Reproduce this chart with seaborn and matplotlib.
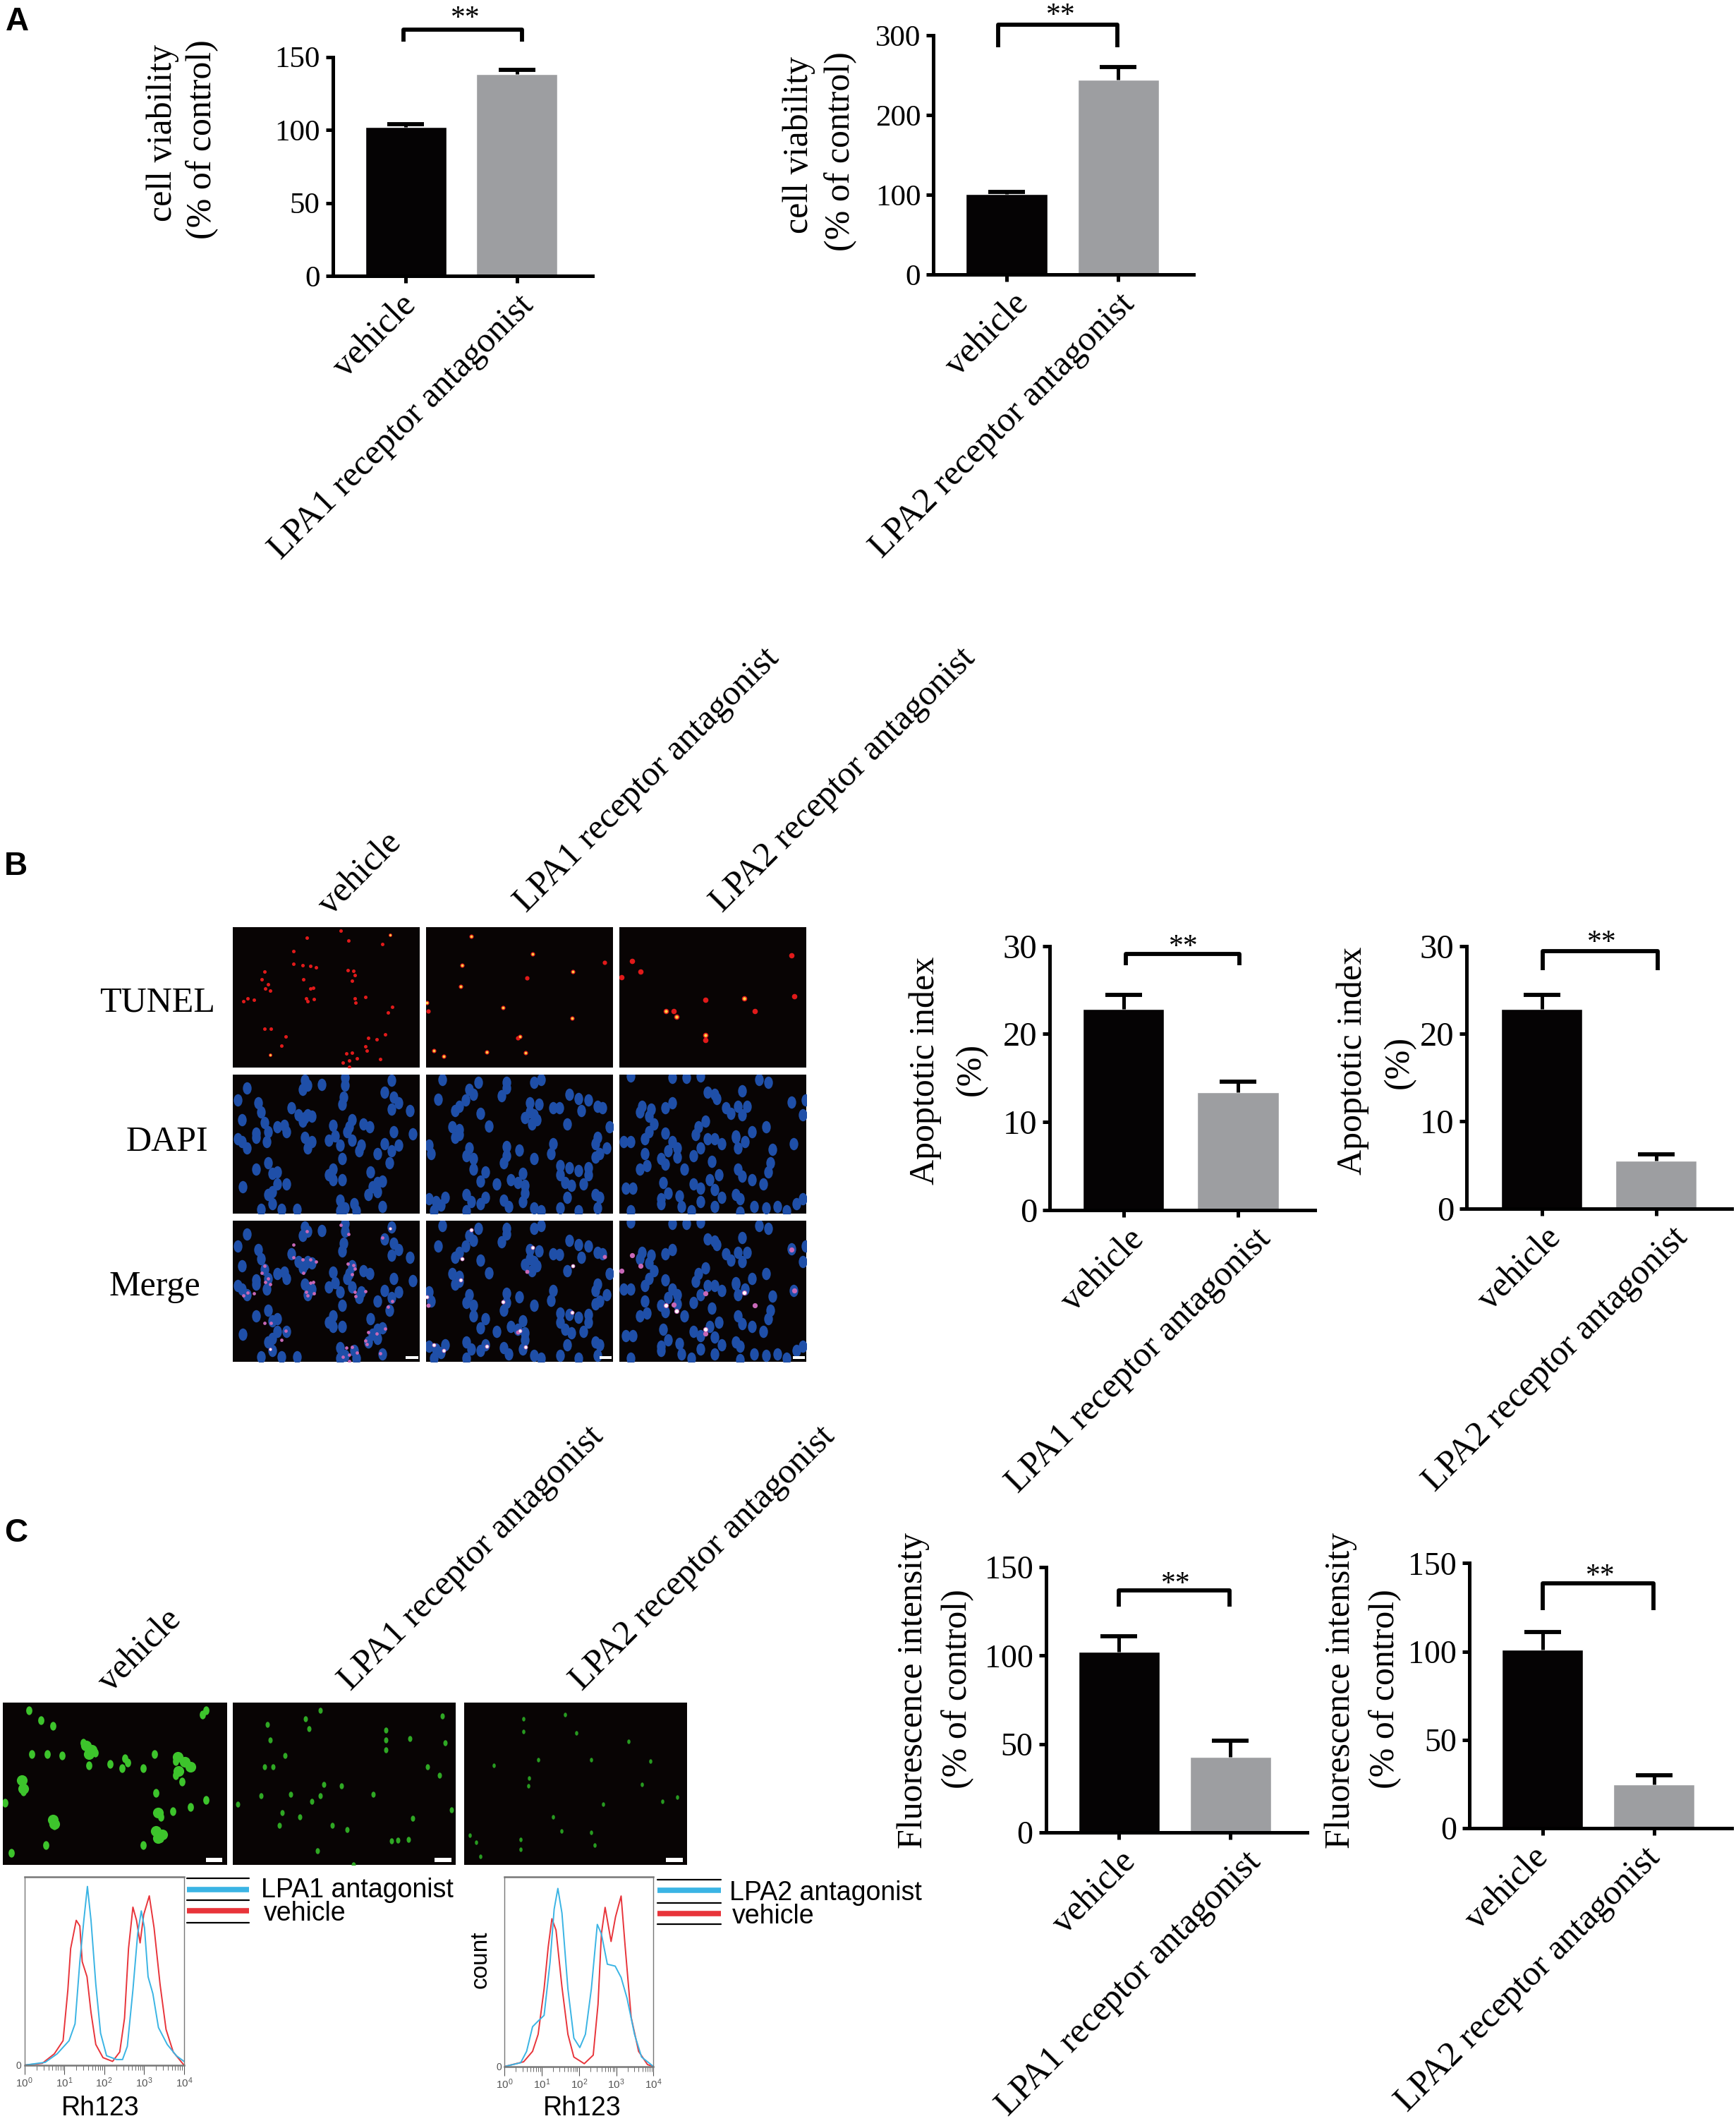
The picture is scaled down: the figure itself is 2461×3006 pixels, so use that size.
import math
import matplotlib
matplotlib.use("Agg")
import matplotlib.pyplot as plt
from matplotlib.markers import MarkerStyle
from matplotlib.patches import Rectangle
from matplotlib.ticker import LogLocator, NullFormatter, FuncFormatter
from matplotlib.transforms import Affine2D, ScaledTranslation
import pandas as pd
import seaborn as sns

sns.set_theme(style="white")
plt.rcParams['font.family'] = ['Liberation Serif', 'DejaVu Sans']
plt.rcParams['mathtext.fontset'] = 'custom'
plt.rcParams['mathtext.rm'] = 'Liberation Sans'

# ---------- data ----------
VEH = "vehicle"
LPA1 = "LPA1 receptor antagonist"
LPA2 = "LPA2 receptor antagonist"

a1_means = [102, 138]; a1_tops = [104, 141]
a2_means = [101, 244]; a2_tops = [104, 260]
b1_means = [22.8, 13.4]; b1_tops = [24.4, 14.6]
b2_means = [22.8, 5.5]; b2_tops = [24.4, 6.2]
c1_means = [102, 42.5]; c1_tops = [111, 52]
c2_means = [101, 25]; c2_tops = [111, 30]

h1_red_x = [0,.45,.75,.97,1.09,1.16,1.3,1.39,1.45,1.57,1.67,1.79,1.97,2.21,2.39,2.51,2.61,2.72,2.81,2.9,2.99,3.13,3.25,3.4,3.55,3.73,4]
h1_red_y = [0,1,6,13,40,62,77,74,55,47,28,11,4,2,7,25,62,84,77,65,80,90,73,43,19,7,0]
h1_blue_x = [0,.52,.82,1.12,1.27,1.39,1.49,1.58,1.67,1.79,1.91,2.06,2.31,2.46,2.58,2.72,2.84,2.93,3.01,3.1,3.22,3.36,3.58,3.81,4]
h1_blue_y = [0,1.5,6,13,22,55,77,95,77,43,17,5,3,3,10,40,70,82,73,47,38,20,11,5,2]
h2_red_x = [0,.51,.75,.9,1.06,1.17,1.27,1.38,1.54,1.70,1.86,2.14,2.38,2.51,2.6,2.7,2.86,2.98,3.13,3.24,3.4,3.6,3.84,4]
h2_red_y = [0,2.5,8,17,41,63,78,72,42,17,5,1.5,6,33,70,84,66,79,90,63,26,8,1,0]
h2_blue_x = [0,.43,.59,.75,.9,1.06,1.22,1.33,1.43,1.54,1.7,1.86,2.02,2.17,2.33,2.49,2.6,2.76,2.97,3.13,3.29,3.49,3.68,4]
h2_blue_y = [0,2,8,21,24,27,55,83,94,81,41,15,10,17,41,75,70,54,53,47,36,17,5,0]

t1 = [(532,68),(637,80),(459,90),(548,100),(620,112),(430,135),(430,176),(450,182),(466,183),(478,190),(547,198),(559,201),(562,214),(368,203),(362,228),(451,228),(556,233),(376,246),(369,258),(380,265),(466,260),(472,257),(345,296),(332,292),(323,302),(457,291),(461,302),(474,294),(562,291),(584,288),(563,305),(642,320),(633,339),(368,392),(382,393),(414,419),(404,448),(380,480),(626,411),(609,428),(591,424),(585,451),(544,474),(556,472),(588,464),(566,490),(616,493),(549,497),(536,505),(549,518)]
t2 = [(810,85),(941,144),(790,181),(1095,173),(1027,203),(930,223),(788,251),(878,323),(716,306),(719,334),(1026,358),(914,419),(909,424),(730,465),(752,485),(843,470),(927,472)]
t3 = [(1153,168),(1131,221),(1172,204),(1495,150),(1310,296),(1394,293),(1501,285),(1416,334),(1226,335),(1243,333),(1249,353),(1311,413),(1311,429)]
t1_hot = [(637,80),(380,480)]
t2_hot = [(810,85),(941,144),(790,181),(1027,203),(788,251),(878,323),(716,306),(1026,358),(914,419),(730,465),(752,485),(843,470),(927,472)]
t3_hot = [(1394,293),(1226,335),(1249,353),(1311,413)]
d1 = [(330,590),(455,565),(460,580),(450,595),(490,578),(540,555),(540,580),(538,620),(535,645),(640,565),(625,605),(645,620),(655,640),(680,665),(640,660),(310,630),(355,640),(360,670),(320,695),(425,655),(440,680),(455,690),(470,685),(450,700),(460,680),(368,705),(350,740),(375,735),(395,720),(410,715),(415,735),(515,715),(555,695),(550,720),(580,710),(593,720),(320,770),(310,760),(330,790),(350,755),(372,770),(455,755),(470,770),(460,790),(505,765),(520,750),(545,735),(645,735),(685,742),(555,765),(530,780),(575,780),(570,800),(625,775),(655,780),(640,800),(610,810),(635,840),(535,825),(515,860),(505,880),(515,895),(535,895),(595,870),(350,860),(375,840),(385,875),(395,870),(322,920),(395,910),(415,910),(385,935),(375,945),(610,905),(620,900),(600,920),(590,945),(610,935),(385,975),(405,995),(360,995),(438,995),(530,965),(540,990),(560,975),(530,1000),(620,985),(565,1000)]
d2 = [(748,562),(825,570),(805,595),(815,610),(885,570),(885,590),(875,615),(945,570),(960,562),(740,628),(798,630),(785,650),(775,665),(830,675),(935,640),(955,645),(985,655),(998,657),(1020,610),(1040,625),(1060,630),(1080,650),(1090,655),(935,670),(945,680),(925,690),(950,695),(940,710),(1045,665),(1015,710),(770,720),(785,730),(775,755),(785,745),(848,717),(1105,720),(1080,755),(1075,775),(1100,790),(720,780),(725,810),(805,790),(800,815),(815,825),(885,785),(912,797),(885,815),(985,775),(880,840),(945,825),(980,808),(815,860),(840,870),(1000,850),(1020,855),(1040,865),(1060,855),(1000,880),(1075,820),(1085,810),(1060,880),(830,900),(865,910),(895,895),(910,905),(925,915),(920,875),(1010,905),(1025,915),(1050,910),(925,940),(720,960),(735,970),(755,955),(745,980),(800,945),(810,970),(840,955),(830,975),(880,965),(890,985),(920,970),(945,990),(960,1000),(1015,955),(1075,945),(1085,955),(1040,1000),(1080,990),(1000,990),(800,1000),(730,1000)]
d3 = [(1150,550),(1240,555),(1270,555),(1300,550),(1425,562),(1445,570),(1390,600),(1315,605),(1330,612),(1335,625),(1240,640),(1175,650),(1195,660),(1225,655),(1355,655),(1380,650),(1400,650),(1365,675),(1390,680),(1495,638),(1525,630),(1520,680),(1190,685),(1170,670),(1200,710),(1310,700),(1295,720),(1225,740),(1190,735),(1440,720),(1410,735),(1375,755),(1135,770),(1150,770),(1180,760),(1240,770),(1250,790),(1230,800),(1290,745),(1315,760),(1330,760),(1345,775),(1375,750),(1395,770),(1380,790),(1500,775),(1455,795),(1180,810),(1185,850),(1215,825),(1225,845),(1250,820),(1285,815),(1325,835),(1300,790),(1380,860),(1450,840),(1445,870),(1170,860),(1340,880),(1320,895),(1265,860),(1140,925),(1155,925),(1220,905),(1285,910),(1390,885),(1410,895),(1435,910),(1230,940),(1215,960),(1255,950),(1300,925),(1330,930),(1375,945),(1385,960),(1345,955),(1300,970),(1215,975),(1260,985),(1330,985),(1440,990),(1465,985),(1505,975),(1520,960),(1415,985),(1485,1000),(1280,1000),(1385,1005),(1150,1000)]
g1_big = [(145,235),(155,250),(150,265),(298,275),(310,292),(320,310),(300,325),(262,535),(272,548),(265,560),(265,470),(38,355),(40,385),(90,495),(92,510)]
g1_small = [(70,145),(50,110),(345,110),(340,125),(90,165),(140,225),(160,260),(55,265),(80,265),(105,270),(150,305),(185,300),(210,280),(215,295),(205,315),(240,315),(260,265),(295,290),(295,340),(305,360),(40,395),(10,435),(262,400),(270,485),(290,465),(320,450),(345,425),(92,515),(270,560),(240,585),(78,585),(20,612)]
g2_cells = [(515,140),(540,110),(745,130),(450,160),(520,175),(650,180),(690,210),(650,215),(650,250),(750,225),(455,215),(480,270),(445,310),(460,310),(720,310),(740,340),(545,370),(575,375),(490,405),(440,412),(525,432),(540,410),(400,440),(628,405),(760,460),(475,470),(505,485),(470,515),(585,530),(660,570),(670,568),(688,565),(695,490),(560,515),(535,605),(595,655)]
g3_cells = [(880,140),(950,125),(880,185),(970,190),(1058,220),(905,285),(995,285),(1095,290),(830,305),(890,350),(888,375),(1080,370),(1115,430),(1140,415),(1015,440),(930,485),(945,535),(995,540),(1000,585),(875,565),(875,600),(800,575),(808,625),(790,550)]

# ---------- style ----------
BLACK = "#050304"; GREY = "#9D9EA1"; IMG = "#080404"; BLUE = "#1F4FA8"
RED = "#E8343A"; CYAN = "#3AB4E4"; GREEN = "#3DC42C"
W, H = 2461, 3006
K = 1.918
SP = 3.6
fig = plt.figure(figsize=(W/100, H/100), dpi=100, facecolor="white")
ELL = MarkerStyle("o", transform=Affine2D().scale(0.85, 1.2))

def axes_px(l, t, r, b, **kw):
    return fig.add_axes([l*K/W, 1-b*K/H, (r-l)*K/W, (b-t)*K/H], **kw)

def barpanel(l, r, ytop, y0, center0, spacing, ymax, ticks, labs, means, tops, cats, fs, dxs=(0, 0)):
    ax = axes_px(l, ytop, r, y0)
    df = pd.DataFrame({"group": cats, "value": means})
    sns.barplot(data=df, x="group", y="value", hue="group", palette=[BLACK, GREY],
                width=60/spacing, saturation=1, errorbar=None, legend=False, ax=ax)
    for i, (m, t) in enumerate(zip(means, tops)):
        ax.errorbar([i], [t], yerr=[[t-m], [0]], color="black", elinewidth=SP,
                    capsize=0, fmt="none", zorder=1)
        ax.plot([i], [t], marker="_", ms=38, mew=SP+0.6, color="black", zorder=3, clip_on=False)
    ax.set_xlim((l-center0)/spacing, (r-center0)/spacing)
    ax.set_ylim(0, ymax)
    ax.set_yticks(ticks); ax.set_yticklabels(labs, fontsize=fs)
    ax.set_xticks([0, 1])
    ax.set_xticklabels(cats, fontsize=36, rotation=45, ha="right", va="top", rotation_mode="anchor")
    ax.set_xlabel(""); ax.set_ylabel("")
    ax.patch.set_alpha(0)
    sns.despine(ax=ax)
    for s in ("left", "bottom"):
        ax.spines[s].set_linewidth(SP); ax.spines[s].set_color("black")
    ax.tick_params(axis="both", length=7, width=SP, color="black", labelcolor="black", pad=6, left=True, bottom=True)
    for lab, dx in zip(ax.get_xticklabels(), dxs):
        lab.set_transform(lab.get_transform() + ScaledTranslation(dx*K/100, 0, fig.dpi_scale_trans))
    return ax

barpanel(246, 438, 42, 204, 300, 82, 150, [0,50,100,150], ["0","50","100","150"], a1_means, a1_tops, [VEH, LPA1], 31, (-5, 0))
barpanel(690, 882, 26, 203, 744, 82.5, 300, [0,100,200,300], ["0","100","200","300"], a2_means, a2_tops, [VEH, LPA2], 31, (4, 0))
barpanel(776, 972, 699, 894, 830.5, 84.5, 30, [0,10,20,30], ["0","10","20","30"], b1_means, b1_tops, [VEH, LPA1], 35, (3, 12))
barpanel(1084, 1280, 699, 893, 1139.5, 84.5, 30, [0,10,20,30], ["0","10","20","30"], b2_means, b2_tops, [VEH, LPA2], 35, (2, 11))
barpanel(773, 966, 1158, 1354, 827, 82.5, 150, [0,50,100,150], ["0","50","100","150"], c1_means, c1_tops, [VEH, LPA1], 33, (0, 10))
barpanel(1086, 1280, 1155, 1351, 1140, 82.5, 150, [0,50,100,150], ["0","50","100","150"], c2_means, c2_tops, [VEH, LPA2], 33, (-8, -8))

def image_axes(l, t, r, b, xlim, ylim):
    ax = axes_px(l, t, r, b)
    ax.set_facecolor(IMG)
    ax.set_xlim(*xlim); ax.set_ylim(*ylim)
    ax.set_xticks([]); ax.set_yticks([])
    for s in ax.spines.values():
        s.set_visible(False)
    return ax

def dots(ax, pts, s, color, dy=0, marker="o"):
    sns.scatterplot(x=[p[0] for p in pts], y=[p[1]+dy for p in pts], s=s, color=color,
                    linewidth=0, legend=False, marker=marker, ax=ax)
    ax.set_xlabel(""); ax.set_ylabel("")

cols = [(172, 310, 300, 700), (315, 453, 714, 1113), (458, 596, 1127, 1527)]
for (l, r, xa, xb), T, Hot, D, ts in zip(cols, [t1, t2, t3], [t1_hot, t2_hot, t3_hot], [d1, d2, d3], [13, 20, 30]):
    a = image_axes(l, 685, r, 789, (xa, xb), (522, 55))
    dots(a, T, ts, "#E01A1A")
    dots(a, Hot, ts*0.35, "#FFD040")
    a = image_axes(l, 794, r, 897, (xa, xb), (1010, 545))
    dots(a, D, 110, BLUE, marker=ELL)
    a = image_axes(l, 902, r, 1006, (xa, xb), (1010, 545))
    dots(a, D, 110, BLUE, marker=ELL)
    dots(a, T, ts*0.9, "#C868B8", dy=490)
    dots(a, Hot, ts*0.45, "#FFFFFF", dy=490)
    a.add_patch(Rectangle((xb-29, 993), 26, 9, color="white", lw=0))

gcols = [(2, 168, 6, 381), (172, 337, 392, 768), (343, 508, 780, 1157)]
for i, ((l, r, xa, xb), C) in enumerate(zip(gcols, [g1_small, g2_cells, g3_cells])):
    a = image_axes(l, 1258, r, 1378, (xa, xb), (655, 82))
    dots(a, C, [55, 26, 15][i], [GREEN, "#2FA824", "#279A20"][i], marker=ELL)
    if i == 0:
        dots(a, g1_big, 120, GREEN)
    a.add_patch(Rectangle((xb-36, 630), 28, 15, color="white", lw=0))

def hist(l, t, r, b, rx, ry, bx, by):
    ax = axes_px(l, t, r, b)
    sns.lineplot(x=[10**v for v in rx], y=ry, color=RED, lw=1.4, ax=ax, errorbar=None)
    sns.lineplot(x=[10**v for v in bx], y=by, color=CYAN, lw=1.4, ax=ax, errorbar=None)
    ax.set_xscale("log"); ax.set_xlim(1, 1e4); ax.set_ylim(0, 100)
    ax.set_yticks([0]); ax.set_yticklabels(["0"], fontsize=10, color="#555555", family="Liberation Sans")
    ax.xaxis.set_major_locator(LogLocator(base=10, numticks=6))
    ax.xaxis.set_major_formatter(FuncFormatter(lambda v, _: r"$\mathrm{10^{%d}}$" % round(math.log10(v))))
    ax.xaxis.set_minor_locator(LogLocator(base=10, subs=range(2, 10), numticks=6))
    ax.xaxis.set_minor_formatter(NullFormatter())
    ax.tick_params(axis="x", which="major", length=9, width=.8, color="#555555", labelsize=11, labelcolor="#555555", pad=2, bottom=True)
    ax.tick_params(axis="x", which="minor", length=5, width=.6, color="#555555", bottom=True)
    ax.tick_params(axis="y", length=0, pad=3)
    ax.set_xlabel(""); ax.set_ylabel("")
    for s, w in zip(("left", "right", "top", "bottom"), (1, 1, 1.8, 1.8)):
        ax.spines[s].set_linewidth(w); ax.spines[s].set_color("#777777"); ax.spines[s].set_visible(True)

hist(18, 1387, 136, 1526, h1_red_x, h1_red_y, h1_blue_x, h1_blue_y)
hist(373, 1387, 483, 1527, h2_red_x, h2_red_y, h2_blue_x, h2_blue_y)

# ---------- annotations ----------
ov = fig.add_axes([0, 0, 1, 1], zorder=20)
ov.set_xlim(0, W/K); ov.set_ylim(H/K, 0); ov.axis("off"); ov.patch.set_alpha(0)

def txt(x, y, s, size, rot=0, ha="center", va="center", family="Liberation Serif", weight="normal"):
    ov.text(x, y, s, fontsize=size, rotation=rot, ha=ha, va=va, family=family, weight=weight,
            color="black", rotation_mode="anchor")

for x, y, s in [(4, 16, "A"), (3, 640, "B"), (3, 1133, "C")]:
    txt(x, y, s, 33, ha="left", family="Liberation Sans", weight="bold")

for x, y, l1, l2, dx in [(135, 103, "cell viability", "(% of control)", 29),
                         (606, 112, "cell viability", "(% of control)", 31)]:
    txt(x-dx/2, y-5, l1, 36, rot=90); txt(x+dx/2, y, l2, 36, rot=90)
txt(684, 791, "Apoptotic index", 36, rot=90); txt(718, 790, "(%)", 36, rot=90)
txt(1000, 784, "Apoptotic index", 36, rot=90); txt(1034, 785, "(%)", 36, rot=90)
for x in (675, 991):
    txt(x, 1249, "Fluorescence intensity", 36, rot=90)
    txt(x+33, 1248, "(% of control)", 36, rot=90)

for x, y, s in [(293, 619, VEH), (572, 483, LPA1), (717, 483, LPA2),
                (130, 1193, VEH), (442, 1058, LPA1), (613, 1058, LPA2)]:
    txt(x, y, s, 36, rot=45, ha="right", va="center")

txt(159, 741, "TUNEL", 36, ha="right"); txt(154, 844, "DAPI", 36, ha="right"); txt(148, 951, "Merge", 36, ha="right")

for x0, x1, yt, yb, sx, sy in [(298, 386, 22, 31, 344, 14), (738, 826, 18, 35, 784, 12),
                               (832, 916, 705, 713, 875, 700), (1140, 1225, 703, 717, 1184, 697),
                               (827, 909, 1175, 1187, 869, 1171), (1140, 1222, 1170, 1190, 1183, 1165)]:
    ov.plot([x0, x0, x1, x1], [yb, yt, yt, yb], color="black", lw=4.2, solid_joinstyle="round", solid_capstyle="butt")
    txt(sx, sy, "**", 30)

for x0, x1, ls, b, rd, lab, tx, ty in [(138, 184, (1388, 1404, 1421), 1396, 1412, "LPA1 antagonist", 193, 1397),
                                       (486, 533, (1389, 1406, 1422), 1397, 1414, "LPA2 antagonist", 539, 1399)]:
    for y in ls:
        ov.plot([x0, x1], [y, y], color="black", lw=1.6)
    ov.plot([x0, x1], [b, b], color=CYAN, lw=5.5, solid_capstyle="butt")
    ov.plot([x0, x1], [rd, rd], color=RED, lw=5.5, solid_capstyle="butt")
    txt(tx, ty, lab, 27, ha="left", family="Liberation Sans")
    txt(tx+2, ty+17, "vehicle", 27, ha="left", family="Liberation Sans")

txt(355, 1448, "count", 24, rot=90, family="Liberation Sans")
txt(74, 1558, "Rh123", 27, family="Liberation Sans")
txt(430, 1558, "Rh123", 27, family="Liberation Sans")

fig.savefig("out.png", dpi=100, facecolor="white")
